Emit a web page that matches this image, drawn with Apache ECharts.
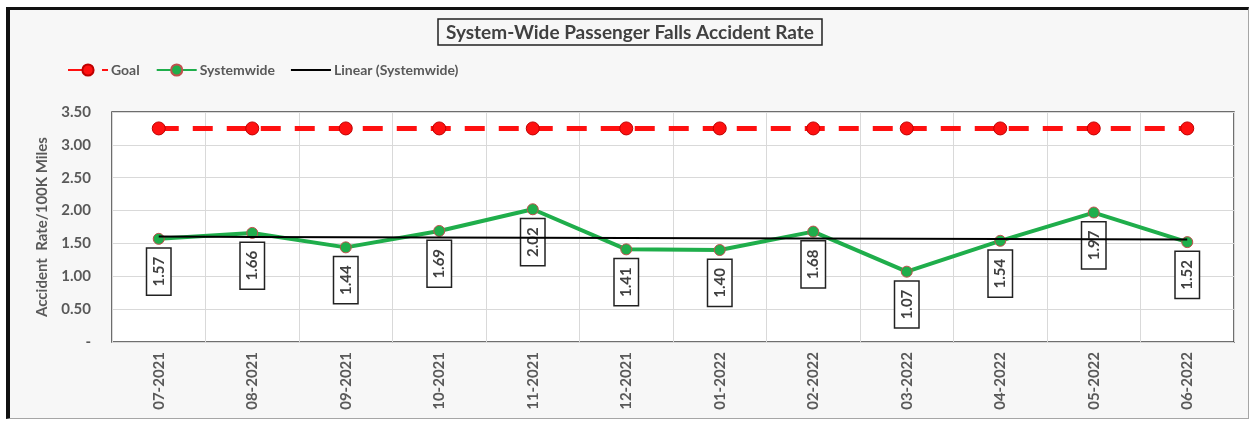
<!DOCTYPE html>
<html>
<head>
<meta charset="utf-8">
<script src="https://cdn.jsdelivr.net/npm/echarts@6/dist/echarts.min.js"></script>
<style>
  html, body { margin: 0; padding: 0; background: #ffffff; }
  #frame { position: absolute; left: 6px; top: 7px; width: 1238px; height: 408px;
           background: #f7f7f7; border-left: 4px solid #111; border-top: 3px solid #111;
           border-right: 1px solid #a6a6a6; border-bottom: 1px solid #a6a6a6; }
  #chart { position: absolute; left: 0; top: 0; width: 1252px; height: 421px; }
</style>
</head>
<body>
<div id="frame"></div>
<div id="chart"></div>
<script>
const categories = ['07-2021','08-2021','09-2021','10-2021','11-2021','12-2021','01-2022','02-2022','03-2022','04-2022','05-2022','06-2022'];
const goalValues = [3.25,3.25,3.25,3.25,3.25,3.25,3.25,3.25,3.25,3.25,3.25,3.25];
const systemwideValues = [1.57,1.66,1.44,1.69,2.02,1.41,1.40,1.68,1.07,1.54,1.97,1.52];
const yTicks = [0,0.5,1,1.5,2,2.5,3,3.5];

// Excel-style linear trendline (least squares) of the Systemwide series
function linearTrend(vals) {
  const n = vals.length;
  let sx = 0, sy = 0, sxy = 0, sxx = 0;
  vals.forEach((v, i) => { sx += i; sy += v; sxy += i * v; sxx += i * i; });
  const slope = (n * sxy - sx * sy) / (n * sxx - sx * sx);
  const icpt = (sy - slope * sx) / n;
  return vals.map((v, i) => +(icpt + slope * i).toFixed(4));
}
const trendValues = linearTrend(systemwideValues);

const FONT = 'Lato, "Open Sans", sans-serif';
const GRAY = '#595959';

const chart = echarts.init(document.getElementById('chart'), null, { renderer: 'canvas' });
chart.setOption({
  backgroundColor: 'transparent',
  animation: false,
  title: {
    text: 'System-Wide Passenger Falls Accident Rate',
    left: 438, top: 19,
    padding: [4, 8, 3, 8],
    borderColor: '#222', borderWidth: 1.5,
    backgroundColor: '#f7f7f7',
    textStyle: { fontFamily: FONT, fontSize: 19, fontWeight: 'bold', color: '#404040' }
  },
  legend: {
    left: 62, top: 58,
    itemWidth: 40, itemHeight: 14, itemGap: 16,
    textStyle: { fontFamily: FONT, fontSize: 14, fontWeight: 'bold', color: GRAY, padding: [0, 0, 0, -2] },
    data: [
      'Goal',
      'Systemwide',
      { name: 'Linear (Systemwide)', icon: 'path://M0,0 L40,0 L40,2 L0,2 Z' }
    ]
  },
  grid: {
    left: 112, right: 18, top: 112, bottom: 79,
    show: true, backgroundColor: '#ffffff', borderColor: '#404040', borderWidth: 1.5
  },
  xAxis: {
    type: 'category',
    data: categories,
    boundaryGap: true,
    axisLine: { show: false },
    axisTick: { show: false },
    splitLine: { show: true, lineStyle: { color: '#d9d9d9', width: 1 } },
    axisLabel: { rotate: 90, margin: 10, fontFamily: FONT, fontSize: 15, fontWeight: 'bold', color: GRAY, interval: 0 }
  },
  yAxis: {
    type: 'value',
    min: yTicks[0], max: yTicks[yTicks.length - 1], interval: 0.5,
    name: 'Accident  Rate/100K Miles',
    nameLocation: 'middle', nameRotate: 90, nameGap: 62,
    nameTextStyle: { fontFamily: FONT, fontSize: 15, fontWeight: 'bold', color: GRAY },
    axisLine: { show: false },
    axisTick: { show: false },
    splitLine: { show: true, lineStyle: { color: '#d9d9d9', width: 1 } },
    axisLabel: {
      margin: 21, fontFamily: FONT, fontSize: 15, fontWeight: 'bold', color: GRAY,
      formatter: v => v === 0 ? '-' : v.toFixed(2)
    }
  },
  series: [
    {
      name: 'Goal', type: 'line', data: goalValues,
      symbol: 'circle', symbolSize: 13,
      itemStyle: { color: '#ff1010', borderColor: '#c00000', borderWidth: 1 },
      lineStyle: { color: '#ff1010', width: 5, type: [20, 14] },
      z: 3
    },
    {
      name: 'Systemwide', type: 'line', data: systemwideValues,
      symbol: 'circle', symbolSize: 11,
      itemStyle: { color: '#1fae4b', borderColor: '#c0504d', borderWidth: 1 },
      lineStyle: { color: '#1fae4b', width: 4 },
      label: {
        show: true, position: 'bottom', distance: 4,
        rotate: 90, align: 'right', verticalAlign: 'middle',
        formatter: p => p.value.toFixed(2),
        fontFamily: FONT, fontSize: 15, fontWeight: 'bold', color: '#404040',
        backgroundColor: '#ffffff', borderColor: '#222', borderWidth: 1.5,
        padding: [4, 8, 4, 8]
      },
      z: 2
    },
    {
      name: 'Linear (Systemwide)', type: 'line', data: trendValues,
      symbol: 'none', showSymbol: false,
      itemStyle: { color: '#000' },
      lineStyle: { color: '#000', width: 2 },
      z: 4
    }
  ]
});
</script>
</body>
</html>
